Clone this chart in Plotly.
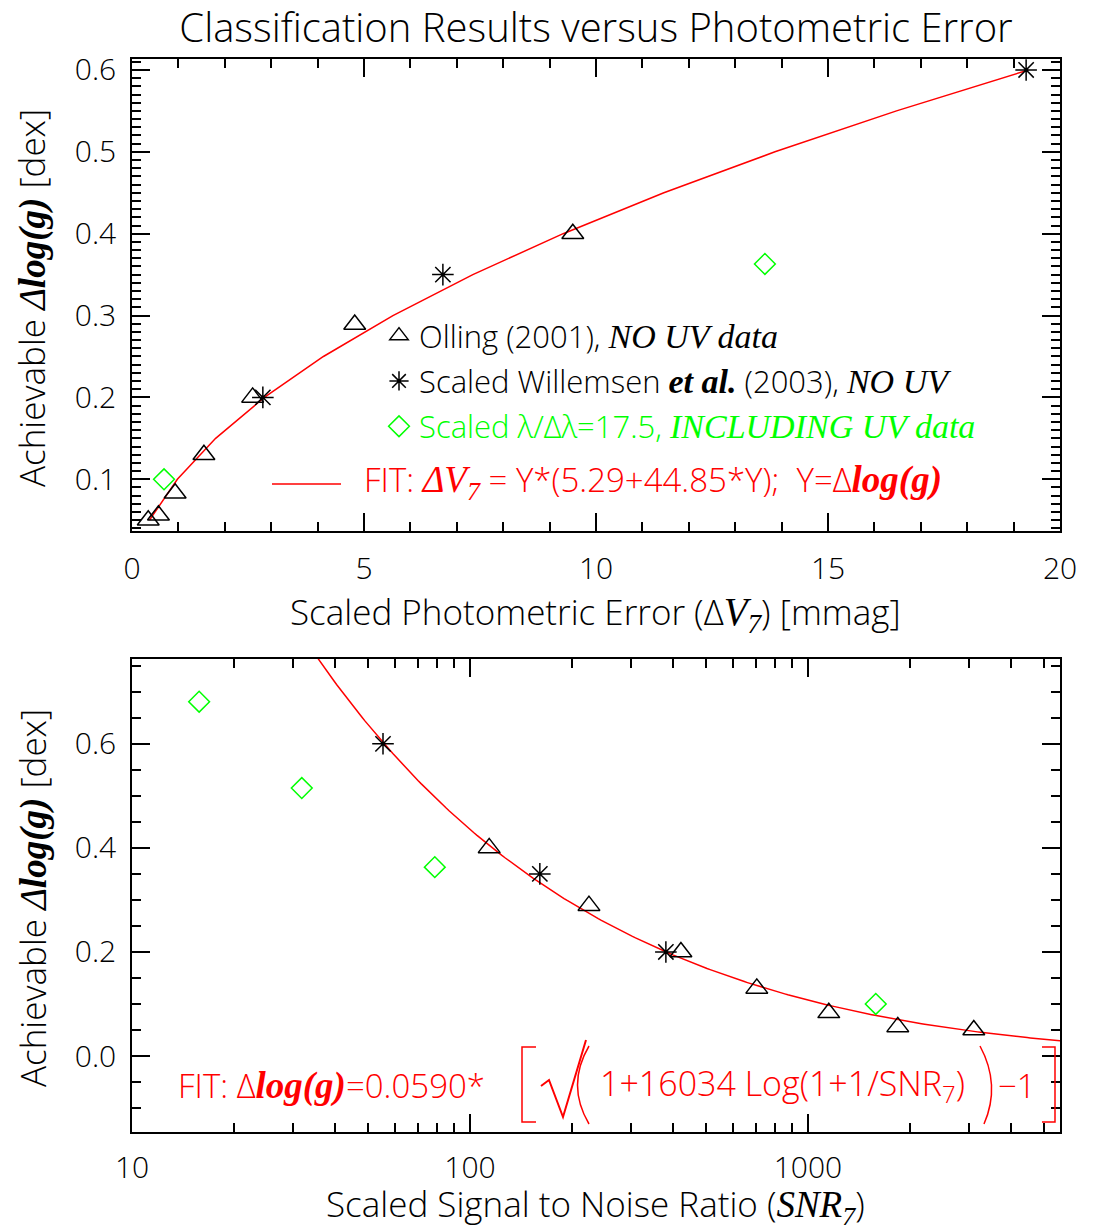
import numpy as np
import plotly.graph_objects as go

# ---------------- data ----------------
# Top panel: achievable Delta log(g) vs scaled photometric error (mmag)
olling_dv = [0.35, 0.57, 0.93, 1.55, 2.6, 4.8, 9.5]
olling_dlogg = [0.05, 0.056, 0.083, 0.13, 0.2, 0.289, 0.4]
willem_dv = [2.82, 6.7, 19.27]
willem_dlogg = [0.2, 0.35, 0.6]
uv_dv = [0.69, 13.64]
uv_dlogg_top = [0.1, 0.363]

# Bottom panel: achievable Delta log(g) vs scaled SNR
olling_snr = [3097, 1845, 1153, 706, 421, 225, 114]
willem_snr = [380, 161, 55.3]
uv_snr = [15.8, 31.8, 78.7, 1588]
uv_dlogg_bot = [0.681, 0.515, 0.363, 0.1]

# Fit parameters shown on the chart
fit_a, fit_b = 5.29, 44.85              # dV = Y*(a + b*Y)
fit_c, fit_k = 0.0590, 16034.0          # dlogg = c*(sqrt(1+k*log10(1+1/SNR)) - 1)

top_xticks = [0, 5, 10, 15, 20]
bot_xticks = [10, 100, 1000]
bot_xticklabels = ["10", "100", "1000"]

# fit curves
fit_Y = np.arange(0.05, 0.6001, 0.05)
fit_dv = fit_Y * (fit_a + fit_b * fit_Y)
fit_snr = np.logspace(1, 3.75, 300)
fit_dlogg = fit_c * (np.sqrt(1 + fit_k * np.log10(1 + 1 / fit_snr)) - 1)

# ---------------- geometry / styling ----------------
W, H = 1093, 1232
L, R, T, B = 132, 1060, 59, 1132          # plot frame in page pixels

FONT = "Open Sans"
WT = 300
SERIF = "Liberation Serif"
RED = "#ff0000"
GREEN = "#00ff00"


def px(x):
    return (x - L) / (R - L)


def py(y):
    return (B - y) / (B - T)


def ser(txt, size, bold=False):
    t = f"<i>{txt}</i>"
    if bold:
        t = f"<b>{t}</b>"
    return f"<span style='font-family:{SERIF};font-size:{size}px'>{t}</span>"


fig = go.Figure()

tri = dict(symbol="triangle-up-open", size=19, color="black", line=dict(width=1.5, color="black"))
ast = dict(symbol="asterisk-open", size=18, color="black", line=dict(width=1.5, color="black"))
dia = dict(symbol="diamond-open", size=16, color=GREEN, line=dict(width=1.5, color=GREEN))

LEG = 31
SL = 34
# top panel
fig.add_trace(go.Scatter(x=fit_dv, y=fit_Y, mode="lines", line=dict(color=RED, width=1.5),
                         showlegend=False, xaxis="x", yaxis="y"))
fig.add_trace(go.Scatter(x=olling_dv, y=olling_dlogg, mode="markers", marker=tri,
                         name="Olling (2001), " + ser("NO UV data", SL),
                         legendgroup="a", xaxis="x", yaxis="y"))
fig.add_trace(go.Scatter(x=willem_dv, y=willem_dlogg, mode="markers", marker=ast,
                         name="Scaled Willemsen " + ser("et al.", SL, True) + " (2003), " + ser("NO UV", SL),
                         legendgroup="b", xaxis="x", yaxis="y"))
fig.add_trace(go.Scatter(x=uv_dv, y=uv_dlogg_top, mode="markers", marker=dia,
                         name="<span style='color:#00ff00'>Scaled λ/Δλ=17.5, " + ser("INCLUDING UV data", SL) + "</span>",
                         legendgroup="c", xaxis="x", yaxis="y"))

# bottom panel
fig.add_trace(go.Scatter(x=fit_snr, y=fit_dlogg, mode="lines", line=dict(color=RED, width=1.5),
                         showlegend=False, xaxis="x2", yaxis="y2"))
fig.add_trace(go.Scatter(x=olling_snr, y=olling_dlogg, mode="markers", marker=tri,
                         showlegend=False, xaxis="x2", yaxis="y2"))
fig.add_trace(go.Scatter(x=willem_snr, y=willem_dlogg, mode="markers", marker=ast,
                         showlegend=False, xaxis="x2", yaxis="y2"))
fig.add_trace(go.Scatter(x=uv_snr, y=uv_dlogg_bot, mode="markers", marker=dia,
                         showlegend=False, xaxis="x2", yaxis="y2"))

axcommon = dict(showline=True, linecolor="black", linewidth=1.5, mirror="allticks",
                ticks="inside", ticklen=18, tickwidth=1.5, tickcolor="black",
                showgrid=False, zeroline=False, automargin=False,
                tickfont=dict(family=FONT, size=30, color="black", weight=WT))
minor = dict(ticks="inside", ticklen=9, tickwidth=1.5, tickcolor="black", showgrid=False)

fig.update_layout(
    width=W, height=H,
    margin=dict(l=L, r=W - R, t=T, b=H - B, autoexpand=False),
    paper_bgcolor="white", plot_bgcolor="white",
    font=dict(family=FONT, color="black", weight=WT),
    title=dict(text="Classification Results versus Photometric Error",
               x=596 / W, xanchor="center", y=1 - 28 / H, yanchor="middle",
               font=dict(family=FONT, size=40, color="black", weight=WT)),
    xaxis=dict(domain=[0, 1], range=[0, 20], tickvals=top_xticks, anchor="y",
               minor=dict(dtick=1, **minor), ticklabelstandoff=10, **axcommon),
    yaxis=dict(domain=[py(531), 1], range=[0.0368, 0.6134], dtick=0.1, tick0=0,
               tickformat=".1f", anchor="x", minor=dict(dtick=0.01, tick0=0, **minor),
               ticklabelstandoff=8, **axcommon),
    xaxis2=dict(domain=[0, 1], type="log", range=[1, 3.746], tickvals=bot_xticks,
                ticktext=bot_xticklabels, anchor="y2",
                minor=dict(tickvals=[v * m for m in (10, 100, 1000) for v in range(2, 10)], **minor),
                ticklabelstandoff=8, **axcommon),
    yaxis2=dict(domain=[0, py(659)], range=[-0.146, 0.763], dtick=0.2, tick0=0,
                tickformat=".1f", anchor="x2", minor=dict(dtick=0.05, tick0=0, **minor),
                ticklabelstandoff=8, **axcommon),
    legend=dict(x=px(379), y=py(309), xanchor="left", yanchor="top",
                bgcolor="rgba(0,0,0,0)", borderwidth=0, tracegroupgap=2,
                font=dict(family=FONT, size=LEG, color="black", weight=WT), itemsizing="trace"),
)

ann = []
# axis titles
ylab = "Achievable " + ser("Δ<b>log(g)</b>", 37) + " [dex]"
ann.append(dict(text=ylab, x=px(32), y=py(298), textangle=-90))
ann.append(dict(text=ylab, x=px(32), y=py(898), textangle=-90))
ann.append(dict(text="Scaled Photometric Error (Δ" + ser("V<sub>7</sub>", 39) + ") [mmag]",
                x=px(595), y=py(613)))
ann.append(dict(text="Scaled Signal to Noise Ratio (" + ser("SNR<sub>7</sub>", 37) + ")",
                x=px(595), y=py(1205)))
for a in ann:
    a.update(xref="paper", yref="paper", xanchor="center", yanchor="middle", showarrow=False,
             font=dict(family=FONT, size=35, color="black", weight=WT))

FS = 33
fit_ann = []
fit_ann.append(dict(text="FIT: " + ser("ΔV<sub>7</sub>", 37) + " = Y*(5.29+44.85*Y);  Y=Δ" + ser("log(g)", 37, True),
                    x=px(362), y=py(481), xanchor="left"))
fit_ann.append(dict(text="FIT: Δ" + ser("log(g)", 37, True) + "=0.0590*",
                    x=px(176), y=py(1085), xanchor="left"))
fit_ann.append(dict(text="1+16034 Log(1+1/SNR<sub>7</sub>)", x=px(782), y=py(1085), xanchor="center",
                    font_size=34))
fit_ann.append(dict(text="−1", x=px(996), y=py(1085), xanchor="left"))
for a in fit_ann:
    fs = a.pop("font_size", FS)
    a.update(xref="paper", yref="paper", yanchor="middle", showarrow=False,
             font=dict(family=FONT, size=fs, color=RED, weight=WT))
fig.update_layout(annotations=ann + fit_ann)


def path(points):
    return "M " + " L ".join(f"{px(x):.5f},{py(y):.5f}" for x, y in points)


shapes = []
lw = dict(color=RED, width=1.5)
# legend key for the fit line
shapes.append(dict(type="line", xref="paper", yref="paper", x0=px(272), x1=px(341), y0=py(484), y1=py(484), line=lw))
# big delimiters of the bottom formula
shapes.append(dict(type="path", xref="paper", yref="paper", line=lw,
                   path=path([(536, 1047), (522, 1047), (522, 1122), (536, 1122)])))
shapes.append(dict(type="path", xref="paper", yref="paper", line=lw,
                   path=path([(1042, 1047), (1055, 1047), (1055, 1122), (1042, 1122)])))
shapes.append(dict(type="path", xref="paper", yref="paper", line=dict(color=RED, width=2),
                   path=path([(541, 1086), (549, 1080), (563, 1117), (586, 1040)])))
shapes.append(dict(type="path", xref="paper", yref="paper", line=lw,
                   path=f"M {px(589):.5f},{py(1046):.5f} Q {px(566):.5f},{py(1085):.5f} {px(589):.5f},{py(1124):.5f}"))
shapes.append(dict(type="path", xref="paper", yref="paper", line=lw,
                   path=f"M {px(980):.5f},{py(1046):.5f} Q {px(1001):.5f},{py(1085):.5f} {px(984):.5f},{py(1124):.5f}"))
fig.update_layout(shapes=shapes)

fig.write_html("out.html", config={"displayModeBar": False},
               post_script="document.body.style.margin='0px';")
